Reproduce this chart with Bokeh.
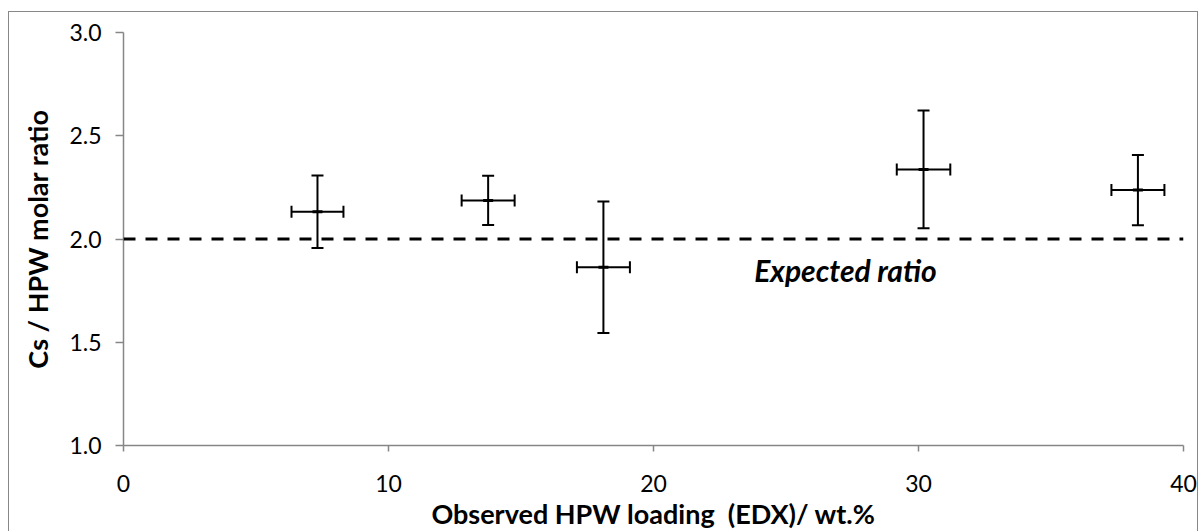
from bokeh.plotting import figure
from bokeh.models import (ColumnDataSource, Whisker, TeeHead, Span, Label,
                          FixedTicker, NumeralTickFormatter, Range1d)
from bokeh.embed import file_html
from bokeh.resources import INLINE

# data
loading = [7.32, 13.76, 18.11, 30.19, 38.28]
loading_err = [0.98, 1.00, 1.00, 1.01, 1.00]
ratio = [2.132, 2.187, 1.863, 2.337, 2.237]
ratio_err = [0.176, 0.119, 0.318, 0.285, 0.170]
expected_ratio = 2.0
x_ticks = [0, 10, 20, 30, 40]
y_ticks = [1.0, 1.5, 2.0, 2.5, 3.0]

src = ColumnDataSource(dict(
    x=loading, y=ratio,
    xl=[a - b for a, b in zip(loading, loading_err)],
    xu=[a + b for a, b in zip(loading, loading_err)],
    yl=[a - b for a, b in zip(ratio, ratio_err)],
    yu=[a + b for a, b in zip(ratio, ratio_err)],
))

FONT = "Lato"

# figure placed at (8, 11) with a thin grey chart-area border
p = figure(width=1190, height=520, output_backend="svg", toolbar_location=None,
           x_range=Range1d(0, 40), y_range=Range1d(1.0, 3.0),
           min_border_left=114, min_border_right=16, min_border_top=20,
           min_border_bottom=74, margin=(11, 0, 0, 8),
           styles={"border-left": "1px solid #888888", "border-top": "1px solid #888888",
                   "border-right": "1px solid #888888"})
p.outline_line_color = None
p.grid.visible = False
p.background_fill_color = "white"
p.border_fill_color = "white"

for ax in (p.xaxis[0], p.yaxis[0]):
    ax.axis_line_color = "#868686"
    ax.axis_line_width = 1.5
    ax.major_tick_line_color = "#868686"
    ax.major_tick_line_width = 1.5
    ax.minor_tick_line_color = None
    ax.major_tick_in = 0
    ax.major_label_text_font = FONT
    ax.major_label_text_font_size = "23px"
    ax.major_label_text_color = "#000000"
    ax.axis_label_text_font = FONT
    ax.axis_label_text_font_size = "27px"
    ax.axis_label_text_font_style = "bold"
    ax.axis_label_text_color = "#000000"

p.xaxis.ticker = FixedTicker(ticks=x_ticks)
p.yaxis.ticker = FixedTicker(ticks=y_ticks)
p.yaxis.formatter = NumeralTickFormatter(format="0.0")
p.xaxis.major_tick_out = 6
p.yaxis.major_tick_out = 8
p.xaxis.major_label_standoff = 23
p.yaxis.major_label_standoff = 14
p.xaxis.axis_label = "Observed HPW loading \u00a0(EDX)/ wt.%"
p.yaxis.axis_label = "Cs / HPW molar ratio"
p.xaxis.axis_label_standoff = 2
p.yaxis.axis_label_standoff = 12

# expected ratio line
p.add_layout(Span(location=expected_ratio, dimension="width", line_color="black",
                  line_width=3, line_dash="12 10"))
p.add_layout(Label(x=23.8, y=1.85, text="Expected ratio", text_font=FONT,
                   text_font_size="30px", text_font_style="bold italic",
                   text_color="black", text_baseline="alphabetic"))

# error bars
p.add_layout(Whisker(source=src, base="x", lower="yl", upper="yu", dimension="height",
                     line_color="black", line_width=2,
                     lower_head=TeeHead(size=12, line_color="black", line_width=2),
                     upper_head=TeeHead(size=12, line_color="black", line_width=2)))
p.add_layout(Whisker(source=src, base="y", lower="xl", upper="xu", dimension="width",
                     line_color="black", line_width=2,
                     lower_head=TeeHead(size=12, line_color="black", line_width=2),
                     upper_head=TeeHead(size=12, line_color="black", line_width=2)))
p.scatter("x", "y", source=src, marker="dash", size=10, line_color="black", line_width=3)

open("out.html", "w").write(file_html(p, INLINE))
